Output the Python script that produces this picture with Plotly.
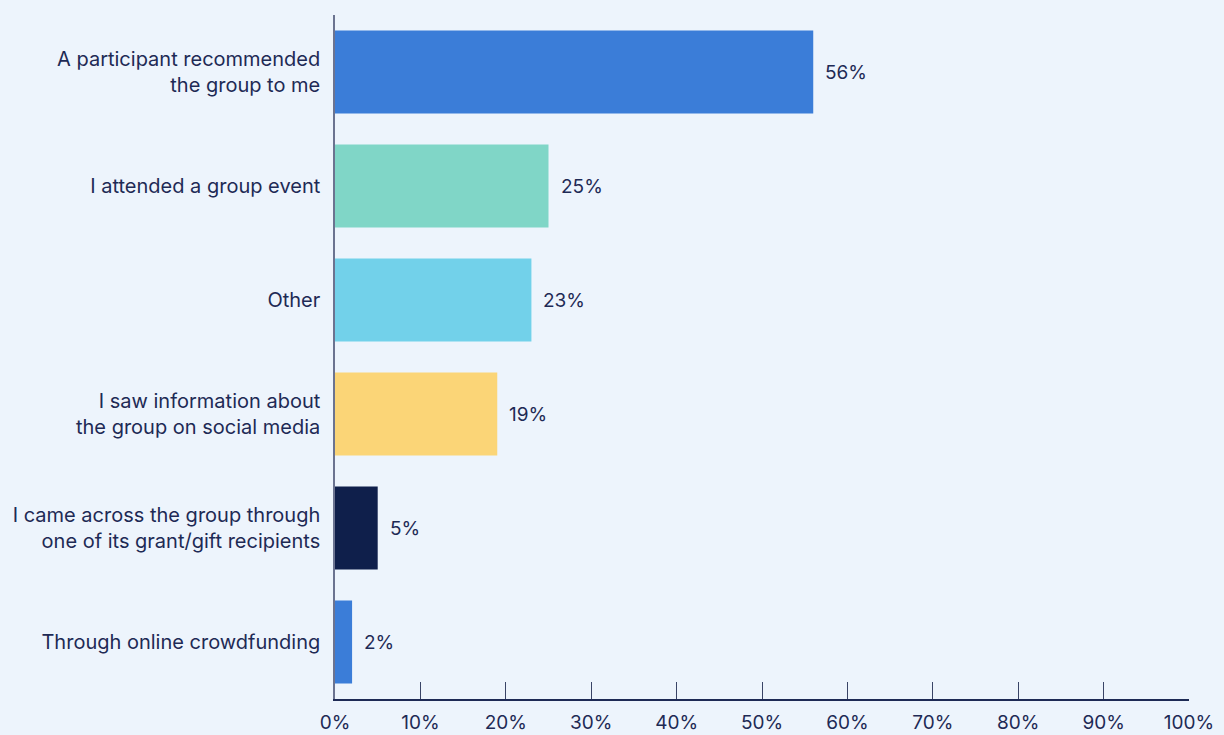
import plotly.graph_objects as go

categories = [
    "A participant recommended<br>the group to me",
    "I attended a group event",
    "Other",
    "I saw information about<br>the group on social media",
    "I came across the group through<br>one of its grant/gift recipients",
    "Through online crowdfunding",
]
values = [56, 25, 23, 19, 5, 2]
bar_colors = ["#3B7DD8", "#80D6C7", "#72D1EA", "#FBD577", "#0F1F4B", "#3B7DD8"]
tick_vals = list(range(0, 101, 10))
tick_text = [f"{v}%" for v in tick_vals]

ink = "#1E2A55"
bg = "#EDF4FC"
font_family = "Inter, DejaVu Sans, sans-serif"

fig = go.Figure(
    go.Bar(
        x=values,
        y=categories,
        orientation="h",
        marker=dict(color=bar_colors, line=dict(width=0)),
        hoverinfo="skip",
    )
)

for v, c in zip(values, categories):
    fig.add_annotation(
        x=v, y=c, text=f"{v}%", showarrow=False,
        xanchor="left", xshift=10,
        font=dict(family=font_family, size=19, color=ink),
    )

fig.update_layout(
    width=1224, height=735,
    paper_bgcolor=bg, plot_bgcolor=bg,
    margin=dict(l=335, r=35, t=15, b=36, autoexpand=False),
    bargap=0.27,
    showlegend=False,
    font=dict(family=font_family, size=18, color=ink),
    xaxis=dict(
        range=[0, 100], tickvals=tick_vals, ticktext=tick_text,
        ticks="inside", ticklen=17, tickwidth=1.3, tickcolor="#3A4466",
        showgrid=False, zeroline=False,
        showline=True, linecolor=ink, linewidth=1.5,
        ticklabelstandoff=5, automargin=False,
        tickfont=dict(family=font_family, size=19, color=ink),
    ),
    yaxis=dict(
        categoryorder="array", categoryarray=categories[::-1],
        showgrid=False, zeroline=False,
        showline=True, linecolor="#6B7390", linewidth=1.5,
        ticks="", ticklabelstandoff=9, automargin=False,
        tickfont=dict(family=font_family, size=20, color=ink),
    ),
)

fig.write_html("out.html")
